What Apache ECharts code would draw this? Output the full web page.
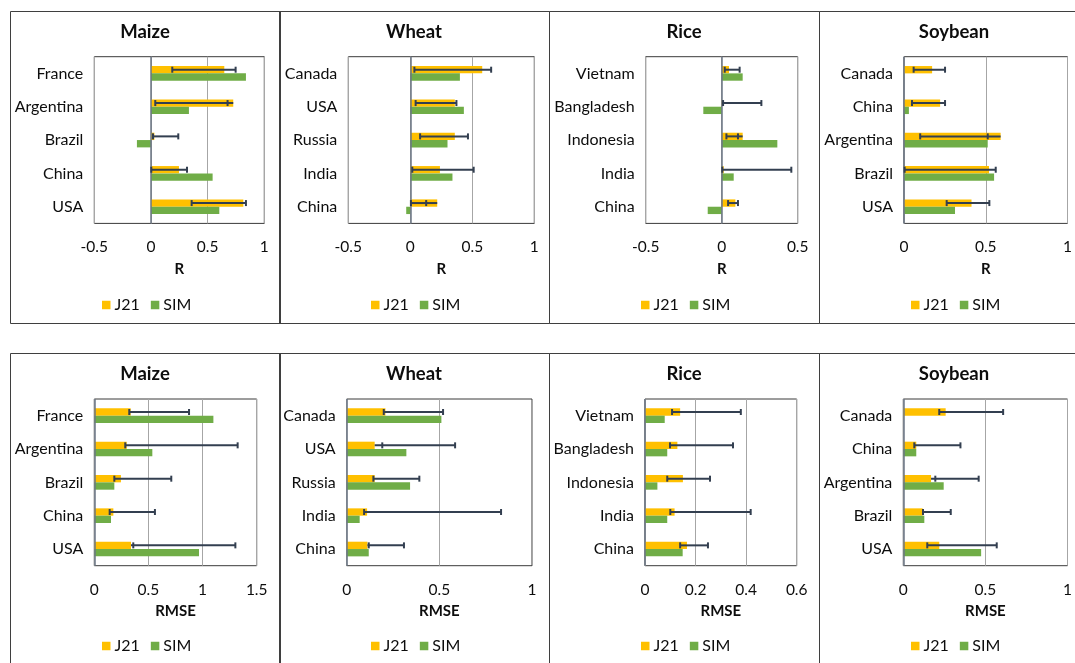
<!DOCTYPE html>
<html>
<head>
<meta charset="utf-8">
<script src="https://cdn.jsdelivr.net/npm/echarts@6/dist/echarts.min.js"></script>
<style>
  html, body { margin: 0; padding: 0; background: #fff; }
  #chart { width: 1075px; height: 663px; }
</style>
</head>
<body>
<div id="chart"></div>
<script>
// ---- Data ----
const crops = ['Maize', 'Wheat', 'Rice', 'Soybean'];
const metrics = ['R', 'RMSE'];
const seriesNames = ['J21', 'SIM'];

const maizeCountries = ['France', 'Argentina', 'Brazil', 'China', 'USA'];
const wheatCountries = ['Canada', 'USA', 'Russia', 'India', 'China'];
const riceCountries = ['Vietnam', 'Bangladesh', 'Indonesia', 'India', 'China'];
const soybeanCountries = ['Canada', 'China', 'Argentina', 'Brazil', 'USA'];

// Correlation (R)
const maizeR_J21 = [0.647, 0.726, 0.03, 0.247, 0.815];
const maizeR_SIM = [0.838, 0.335, -0.124, 0.544, 0.603];
const maizeR_low = [0.188, 0.038, 0.018, 0.003, 0.359];
const maizeR_high = [0.747, 0.676, 0.241, 0.318, 0.838];

const wheatR_J21 = [0.58, 0.359, 0.359, 0.239, 0.217];
const wheatR_SIM = [0.40, 0.432, 0.30, 0.34, -0.033];
const wheatR_low = [0.033, 0.043, 0.079, 0.016, 0.005];
const wheatR_high = [0.652, 0.372, 0.465, 0.511, 0.128];

const riceR_J21 = [0.048, 0.002, 0.138, 0.013, 0.09];
const riceR_SIM = [0.138, -0.121, 0.366, 0.079, -0.092];
const riceR_low = [0.02, 0.009, 0.031, 0.004, 0.042];
const riceR_high = [0.118, 0.261, 0.107, 0.458, 0.107];

const soybeanR_J21 = [0.172, 0.221, 0.591, 0.52, 0.413];
const soybeanR_SIM = [null, 0.03, 0.512, 0.551, 0.312];
const soybeanR_low = [0.059, 0.049, 0.099, 0.004, 0.261];
const soybeanR_high = [0.251, 0.251, 0.512, 0.561, 0.522];

// Root mean square error (RMSE)
const maizeRMSE_J21 = [0.336, 0.299, 0.246, 0.176, 0.339];
const maizeRMSE_SIM = [1.10, 0.536, 0.185, 0.154, 0.967];
const maizeRMSE_low = [0.323, 0.286, 0.185, 0.142, 0.36];
const maizeRMSE_high = [0.875, 1.324, 0.711, 0.56, 1.303];

const wheatRMSE_J21 = [0.209, 0.151, 0.151, 0.11, 0.112];
const wheatRMSE_SIM = [0.511, 0.322, 0.342, 0.07, 0.119];
const wheatRMSE_low = [0.2, 0.192, 0.144, 0.094, 0.119];
const wheatRMSE_high = [0.52, 0.585, 0.392, 0.833, 0.309];

const riceRMSE_J21 = [0.139, 0.128, 0.15, 0.117, 0.166];
const riceRMSE_SIM = [0.078, 0.088, 0.049, 0.088, 0.149];
const riceRMSE_low = [0.107, 0.099, 0.088, 0.1, 0.139];
const riceRMSE_high = [0.379, 0.348, 0.257, 0.418, 0.249];

const soybeanRMSE_J21 = [0.258, 0.079, 0.169, 0.118, 0.219];
const soybeanRMSE_SIM = [null, 0.079, 0.246, 0.128, 0.474];
const soybeanRMSE_low = [0.219, 0.067, 0.195, 0.12, 0.146];
const soybeanRMSE_high = [0.608, 0.348, 0.459, 0.289, 0.569];

// Value-axis ranges per crop
const rAxisMin = [-0.5, -0.5, -0.5, 0];
const rAxisMax = [1, 1, 0.5, 1];
const rAxisStep = [0.5, 0.5, 0.5, 0.5];
const rmseAxisMin = [0, 0, 0, 0];
const rmseAxisMax = [1.5, 1, 0.6, 1];
const rmseAxisStep = [0.5, 0.5, 0.2, 0.5];

// ---- Panel assembly ----
const countryLists = [maizeCountries, wheatCountries, riceCountries, soybeanCountries];
const panelData = [
  // row 0: R
  [maizeR_J21, maizeR_SIM, maizeR_low, maizeR_high],
  [wheatR_J21, wheatR_SIM, wheatR_low, wheatR_high],
  [riceR_J21, riceR_SIM, riceR_low, riceR_high],
  [soybeanR_J21, soybeanR_SIM, soybeanR_low, soybeanR_high],
  // row 1: RMSE
  [maizeRMSE_J21, maizeRMSE_SIM, maizeRMSE_low, maizeRMSE_high],
  [wheatRMSE_J21, wheatRMSE_SIM, wheatRMSE_low, wheatRMSE_high],
  [riceRMSE_J21, riceRMSE_SIM, riceRMSE_low, riceRMSE_high],
  [soybeanRMSE_J21, soybeanRMSE_SIM, soybeanRMSE_low, soybeanRMSE_high]
];

// ---- Layout ----
const FONT = 'Lato, "Noto Sans", sans-serif';
const TEXT = '#0d0d0d';
const colX = [10, 279, 549, 819];
const panelW = 270;
const rowTop = [11, 353];
const rowBottom = [323, 720];
const gridTop = [56.7, 399];
const gridH = 166.7;
const gridLeft = [[94.3, 348.3, 645.7, 904], [94.3, 346.7, 645, 903.3]];
const gridW = [[170, 186, 152, 168.7], [162.4, 185.3, 151.7, 169.4]];
const titleY = [32, 374];
const legendTop = [297, 638];

const COLOR_J21 = '#FFC000';
const COLOR_SIM = '#70AD47';
const COLOR_ERR = '#333F50';

const grids = [], xAxes = [], yAxes = [], series = [], titles = [], legends = [], graphics = [];

for (let row = 0; row < 2; row++) {
  for (let col = 0; col < 4; col++) {
    const i = row * 4 + col;
    const [j21, sim, lo, hi] = panelData[i];
    const cats = countryLists[col];

    // panel frame
    graphics.push({
      type: 'rect', silent: true, z: 0,
      shape: { x: colX[col] + 0.5, y: rowTop[row] + 0.5, width: panelW, height: rowBottom[row] - rowTop[row] },
      style: { fill: 'none', stroke: '#3f3f3f', lineWidth: 1 }
    });

    titles.push({
      text: crops[col], left: colX[col] + panelW / 2, top: titleY[row],
      textAlign: 'center', textVerticalAlign: 'middle', padding: 0,
      textStyle: { fontFamily: FONT, fontSize: 18.5, fontWeight: 'bold', color: TEXT }
    });

    legends.push({
      data: seriesNames, left: colX[col] + 92, top: legendTop[row],
      icon: 'rect', itemWidth: 8.5, itemHeight: 8.5, itemGap: 11, padding: 0,
      selectedMode: false,
      textStyle: { fontFamily: FONT, fontSize: 16, color: TEXT, padding: [0, 0, 0, -1] }
    });

    grids.push({
      left: gridLeft[row][col], top: gridTop[row], width: gridW[row][col], height: gridH,
      show: true, borderColor: '#3a3a3a', borderWidth: 1, backgroundColor: 'transparent',
      containLabel: false
    });

    const mn = row === 0 ? rAxisMin[col] : rmseAxisMin[col];
    const mx = row === 0 ? rAxisMax[col] : rmseAxisMax[col];
    const st = row === 0 ? rAxisStep[col] : rmseAxisStep[col];

    xAxes.push({
      type: 'value', gridIndex: i, min: mn, max: mx, interval: st,
      name: metrics[row], nameLocation: 'middle', nameGap: 38,
      nameTextStyle: { fontFamily: FONT, fontSize: 15, fontWeight: 'bold', color: TEXT },
      axisLine: { show: false }, axisTick: { show: false },
      axisLabel: {
        margin: 16, fontFamily: FONT, fontSize: 15.5, color: TEXT,
        formatter: v => String(Math.round(v * 100) / 100)
      },
      splitLine: { show: true, lineStyle: { color: '#a6a6a6', width: 1 } }
    });

    yAxes.push({
      type: 'category', gridIndex: i, data: cats, inverse: true,
      axisLine: { show: false }, axisTick: { show: false },
      axisLabel: { margin: 11, fontFamily: FONT, fontSize: 16, color: TEXT },
      splitLine: { show: false }
    });

    series.push({
      type: 'bar', name: 'J21', xAxisIndex: i, yAxisIndex: i, data: j21,
      barWidth: '22%', barGap: '0%', itemStyle: { color: COLOR_J21 }, silent: true, z: 2
    });
    series.push({
      type: 'bar', name: 'SIM', xAxisIndex: i, yAxisIndex: i, data: sim,
      barWidth: '22%', barGap: '0%', itemStyle: { color: COLOR_SIM }, silent: true, z: 2,
      markLine: {
        silent: true, symbol: 'none', label: { show: false },
        lineStyle: { color: '#6b7685', width: 1.5, type: 'solid' },
        data: [{ xAxis: 0 }]
      }
    });
    // J21 spread: line between the bounds (extended to the bar end), caps at each bound
    series.push({
      type: 'custom', name: 'spread', xAxisIndex: i, yAxisIndex: i, silent: true, z: 5,
      data: lo.map((l, k) => [l, hi[k], j21[k], k]),
      encode: { x: [0, 1, 2], y: 3 },
      renderItem: (params, api) => {
        const l = api.value(0), h = api.value(1), v = api.value(2), k = api.value(3);
        const band = api.size([0, 1])[1];
        const yc = api.coord([0, k])[1] - band * 0.11;
        const xa = api.coord([Math.min(l, v), k])[0];
        const xb = api.coord([Math.max(h, v), k])[0];
        const xl = api.coord([l, k])[0];
        const xh = api.coord([h, k])[0];
        const st = { stroke: COLOR_ERR, lineWidth: 2 };
        return {
          type: 'group',
          children: [
            { type: 'line', shape: { x1: xa, y1: yc, x2: xb, y2: yc }, style: st },
            { type: 'line', shape: { x1: xl, y1: yc - 3, x2: xl, y2: yc + 3 }, style: st },
            { type: 'line', shape: { x1: xh, y1: yc - 3, x2: xh, y2: yc + 3 }, style: st }
          ]
        };
      }
    });
  }
}

const chart = echarts.init(document.getElementById('chart'), null, { renderer: 'canvas' });
chart.setOption({
  animation: false,
  backgroundColor: '#ffffff',
  textStyle: { fontFamily: FONT },
  title: titles,
  legend: legends,
  grid: grids,
  xAxis: xAxes,
  yAxis: yAxes,
  series: series,
  graphic: graphics
});
</script>
</body>
</html>
